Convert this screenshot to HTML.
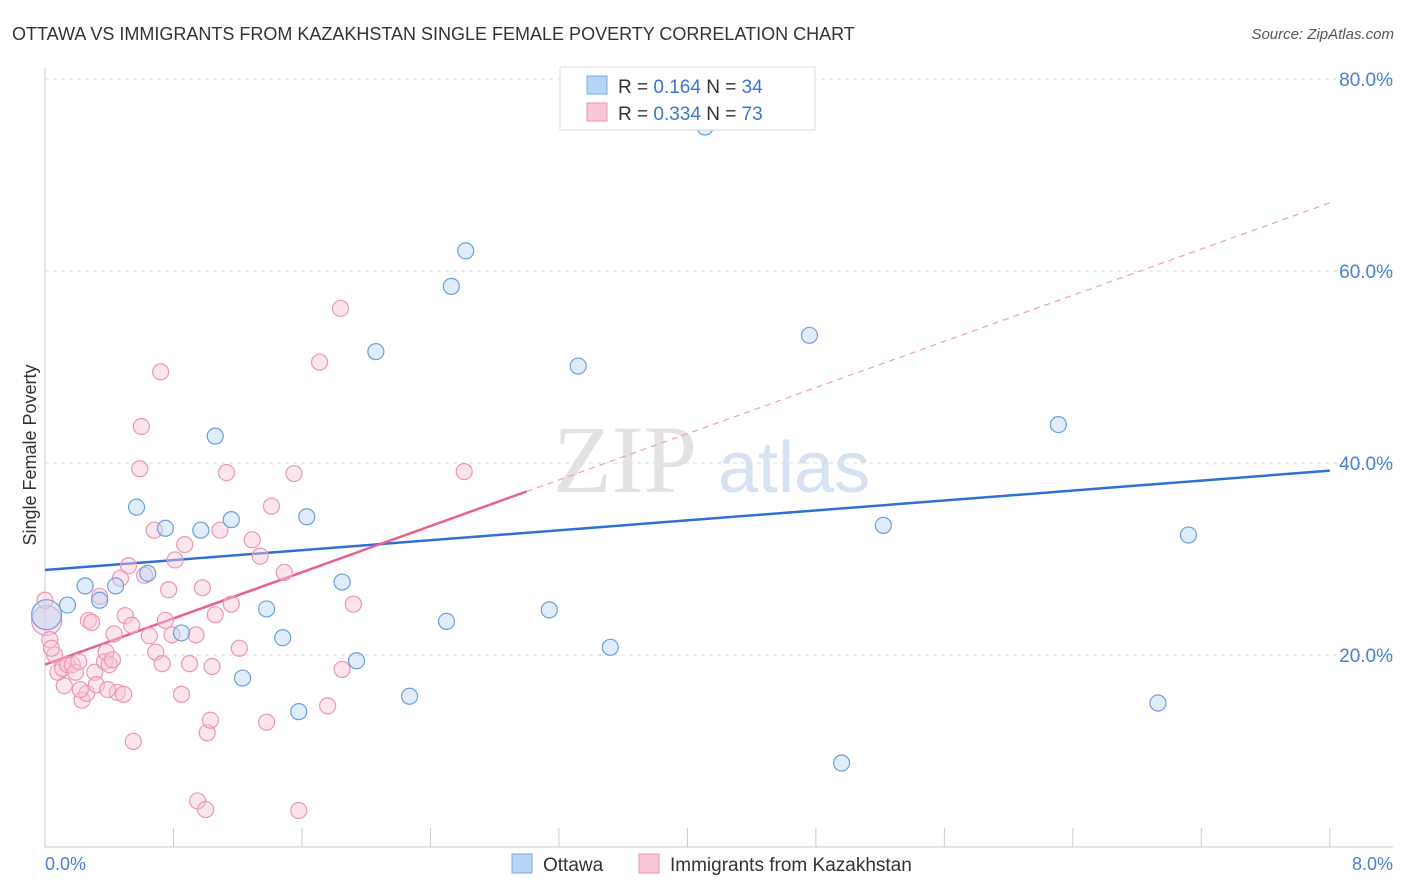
<!DOCTYPE html>
<html><head><meta charset="utf-8"><style>
body{margin:0;background:#fff;font-family:"Liberation Sans",sans-serif}
svg{display:block}
</style></head><body>
<svg width="1406" height="892" xmlns="http://www.w3.org/2000/svg">
<text x="12" y="40" font-size="18" fill="#333">OTTAWA VS IMMIGRANTS FROM KAZAKHSTAN SINGLE FEMALE POVERTY CORRELATION CHART</text>
<text x="1394" y="39" font-size="15" fill="#555" font-style="italic" text-anchor="end">Source: ZipAtlas.com</text>
<g>
<text x="553" y="492" font-size="96" font-family="Liberation Serif,serif" fill="#e2e2e2">ZIP</text>
<text x="718" y="492" font-size="72" fill="#d6e2f2">atlas</text>
</g>
<g id="grid"></g>
<g id="axes"></g>
<g id="trend"></g>
<g id="pts"></g>
<text x="36" y="455" font-size="18" fill="#333" text-anchor="middle" transform="rotate(-90 36 455)">Single Female Poverty</text>
<text x="45" y="870" font-size="18" fill="#4a7fd4">0.0%</text>
<text x="1393" y="870" font-size="18" fill="#4a7fd4" text-anchor="end">8.0%</text>
<g>
<rect x="560" y="67" width="255" height="63" fill="#fff" stroke="#ddd"/>
<rect x="587" y="76" width="20" height="18" fill="#b8d4f5" stroke="#7fa8e0"/>
<rect x="587" y="103" width="20" height="18" fill="#f9c6d6" stroke="#ec97b4"/>
<text x="618" y="93" font-size="19" fill="#333">R = <tspan fill="#3b75d1">0.164</tspan>   N = <tspan fill="#3b75d1">34</tspan></text>
<text x="618" y="120" font-size="19" fill="#333">R = <tspan fill="#3b75d1">0.334</tspan>   N = <tspan fill="#3b75d1">73</tspan></text>
</g>
<g>
<rect x="512" y="854" width="20" height="19" fill="#b8d4f5" stroke="#7fa8e0"/>
<text x="543" y="871" font-size="19" fill="#333">Ottawa</text>
<rect x="639" y="854" width="20" height="19" fill="#f9c6d6" stroke="#ec97b4"/>
<text x="670" y="871" font-size="19" fill="#333">Immigrants from Kazakhstan</text>
</g>
</svg>
<script>
const yTicks=[20,40,60,80];
const yTickLabels=["20.0%","40.0%","60.0%","80.0%"];
const xTicks=[0,0.8,1.6,2.4,3.2,4,4.8,5.6,6.4,7.2,8];
const ottawaX=[0.01,0.14,0.25,0.34,0.44,0.57,0.64,0.75,0.85,0.97,1.06,1.16,1.23,1.38,1.48,1.58,1.63,1.85,1.94,2.06,2.27,2.50,2.53,2.62,3.14,3.32,3.52,4.11,4.76,4.96,5.22,6.31,6.93,7.12];
const ottawaY=[24.2,25.2,27.2,25.7,27.2,35.4,28.5,33.2,22.3,33.0,42.8,34.1,17.6,24.8,21.8,14.1,34.4,27.6,19.4,51.6,15.7,23.5,58.4,62.1,24.7,50.1,20.8,75.0,53.3,8.75,33.5,44.0,15.0,32.5];
const kazX=[0.01,0.03,0.06,0.08,0.11,0.12,0.14,0.17,0.19,0.21,0.23,0.26,0.27,0.29,0.31,0.32,0.34,0.37,0.38,0.40,0.42,0.43,0.45,0.47,0.49,0.50,0.52,0.54,0.55,0.59,0.60,0.65,0.68,0.69,0.72,0.73,0.75,0.77,0.79,0.81,0.85,0.87,0.90,0.94,0.95,0.98,1.00,1.01,1.03,1.04,1.06,1.09,1.13,1.16,1.21,1.29,1.34,1.38,1.41,1.49,1.55,1.58,1.71,1.76,1.84,1.85,1.92,2.61,0.0,0.04,0.22,0.39,0.62];
const kazY=[23.6,21.6,20.0,18.2,18.6,16.8,19.0,19.0,18.2,19.3,15.3,16.0,23.6,23.4,18.2,16.9,26.1,19.3,20.3,19.0,19.5,22.2,16.1,28.0,15.9,24.1,29.3,23.1,11.0,39.4,43.8,22.0,33.0,20.3,49.5,19.1,23.6,26.8,22.1,29.9,15.9,31.5,19.1,22.1,4.8,27.0,3.9,11.9,13.2,18.8,24.2,33.0,39.0,25.3,20.7,32.0,30.3,13.0,35.5,28.6,38.9,3.8,50.5,14.7,56.1,18.5,25.3,39.1,25.7,20.7,16.4,16.4,28.3];
const ottawaTrend=[28.85,39.2];
const kazTrend=[19.0,67.1];
const kazSolidEnd=3.0;
const sx=v=>45+v*160.6, sy=v=>847-v*9.6;
const NS="http://www.w3.org/2000/svg";
function mk(p,t,a){const e=document.createElementNS(NS,t);for(const k in a)e.setAttribute(k,a[k]);p.appendChild(e);return e;}
const grid=document.getElementById('grid'),axes=document.getElementById('axes'),trend=document.getElementById('trend'),pts=document.getElementById('pts');
yTicks.forEach((t,i)=>{
 const l=mk(grid,'line',{x1:45,x2:1393,y1:sy(t),y2:sy(t),stroke:'#ddd','stroke-dasharray':'4,4'});
 
 
 const tx=mk(grid,'text',{x:1393,y:sy(t)+7,'font-size':19,fill:'#4a7fd4','text-anchor':'end'});
 tx.textContent=yTickLabels[i];
 
 
});
mk(axes,'line',{x1:45,x2:1393,y1:847,y2:847,stroke:'#ccc'});
mk(axes,'line',{x1:45,x2:45,y1:68,y2:847,stroke:'#ccc'});
xTicks.forEach(t=>{
 const l=mk(axes,'line',{x1:sx(t),x2:sx(t),y1:828,y2:847,stroke:'#ccc'});
 
 
});
function drawPts(X,Y,fill,stroke,name){
 X.forEach((x,i)=>{
  const r=i===0?15:8;
  const c=mk(pts,'circle',{cx:sx(x),cy:sy(Y[i]),r:r,fill:fill,'fill-opacity':0.45,stroke:stroke,'stroke-width':1.2});
  
  
 });
}
drawPts(kazX,kazY,'#f9c6d6','#ec97b4','kazakhstan-point');
drawPts(ottawaX,ottawaY,'#b8d4f5','#6e9ee0','ottawa-point');
const kazAt=x=>kazTrend[0]+(kazTrend[1]-kazTrend[0])*x/8;
let l1=mk(trend,'line',{x1:sx(0),y1:sy(ottawaTrend[0]),x2:sx(8),y2:sy(ottawaTrend[1]),stroke:'#2f6fd6','stroke-width':2.5});


let l2=mk(trend,'line',{x1:sx(0),y1:sy(kazAt(0)),x2:sx(kazSolidEnd),y2:sy(kazAt(kazSolidEnd)),stroke:'#e8628e','stroke-width':2.5});


let l3=mk(trend,'line',{x1:sx(kazSolidEnd),y1:sy(kazAt(kazSolidEnd)),x2:sx(8),y2:sy(kazAt(8)),stroke:'#eea0b8','stroke-width':1.2,'stroke-dasharray':'6,5'});


</script>
</body></html>
